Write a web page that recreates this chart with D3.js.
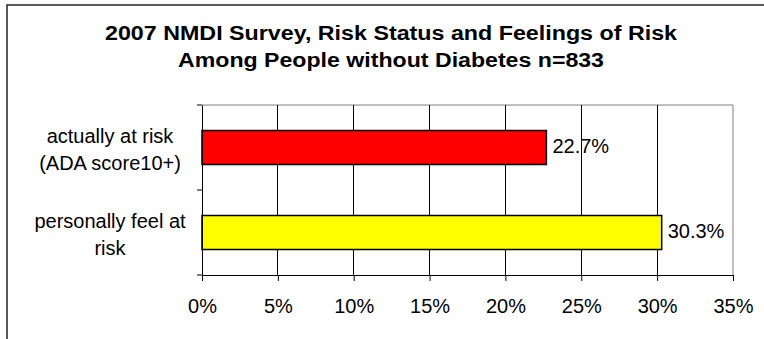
<!DOCTYPE html>
<html><head><meta charset="utf-8">
<script src="https://cdn.jsdelivr.net/npm/d3@7"></script>
<style>body{margin:0;background:#fff}svg{display:block}</style>
</head><body>
<script>
const categories = ["actually at risk|(ADA score10+)", "personally feel at|risk"];
const values = [22.7, 30.3];
const colors = ["#ff0000", "#ffff00"];
const tickValues = [0, 5, 10, 15, 20, 25, 30, 35];
const titleLines = ["2007 NMDI Survey, Risk Status and Feelings of Risk", "Among People without Diabetes n=833"];

const W = 764, H = 339;
const svg = d3.select("body").append("svg").attr("width", W).attr("height", H);
const font = "Liberation Sans, Arial, sans-serif";
const fs = 20;

// outer frame
svg.append("rect").attr("x", 7).attr("y", 5).attr("width", W + 10).attr("height", H + 10)
  .attr("fill", "#fff").attr("stroke", "#222").attr("stroke-width", 1.5);

// title
const titleLen = [572, 426];
titleLines.forEach((t, i) => {
  svg.append("text").attr("x", 391).attr("y", 39.5 + i * 27).attr("text-anchor", "middle")
    .attr("font-family", font).attr("font-weight", "bold").attr("font-size", 19.5).attr("fill", "#000")
    .attr("textLength", titleLen[i]).attr("lengthAdjust", "spacingAndGlyphs").text(t);
});

const m = {l: 202, r: 733, t: 105, b: 275};
const x = d3.scaleLinear().domain([0, 35]).range([m.l, m.r]);
const y = d3.scaleBand().domain(categories).range([m.t, m.b]).paddingInner(0.6).paddingOuter(0.3);
const yb = d3.scaleBand().domain(categories).range([m.t, m.b]);

// plot border top/right gray
svg.append("line").attr("x1", m.l).attr("x2", m.r).attr("y1", m.t).attr("y2", m.t).attr("stroke", "#808080");
svg.append("line").attr("x1", m.r).attr("x2", m.r).attr("y1", m.t).attr("y2", m.b).attr("stroke", "#808080");

// gridlines
svg.append("g").selectAll("line").data(tickValues.filter(d => d > 0 && d < 35)).join("line")
  .attr("x1", d => x(d)).attr("x2", d => x(d)).attr("y1", m.t).attr("y2", m.b)
  .attr("stroke", "#000").attr("stroke-width", 1).attr("shape-rendering", "crispEdges");

// bars
svg.append("g").selectAll("rect").data(values).join("rect")
  .attr("x", x(0)).attr("y", (d, i) => y(categories[i]))
  .attr("width", d => x(d) - x(0)).attr("height", y.bandwidth())
  .attr("fill", (d, i) => colors[i]).attr("stroke", "#000").attr("stroke-width", 1.5);

// value labels
svg.append("g").selectAll("text").data(values).join("text")
  .attr("x", d => x(d) + 6).attr("y", (d, i) => y(categories[i]) + y.bandwidth() / 2 + 5.5)
  .attr("font-family", font).attr("font-size", fs).attr("fill", "#000")
  .text(d => d.toFixed(1) + "%");

// x axis
const xa = svg.append("g").attr("transform", `translate(0,${m.b})`)
  .call(d3.axisBottom(x).tickValues(tickValues).tickFormat(d => d + "%").tickSize(6).tickPadding(17.5));
xa.select(".domain").attr("stroke", "#000");
xa.selectAll("line").attr("stroke", "#000");
xa.selectAll("text").attr("font-family", font).attr("font-size", fs).attr("fill", "#000");

// y axis
const ya = svg.append("g").attr("transform", `translate(${m.l},0)`)
  .call(d3.axisLeft(yb).tickValues([]).tickSize(0));
ya.select(".domain").attr("stroke", "#000");
const tickYs = [m.t].concat(categories.map(c => yb(c) + yb.bandwidth()));
svg.append("g").selectAll("line").data(tickYs).join("line")
  .attr("x1", m.l - 5).attr("x2", m.l).attr("y1", d => d).attr("y2", d => d).attr("stroke", "#000");

// category labels
categories.forEach((c, i) => {
  const lines = c.split("|");
  const cy = yb(c) + yb.bandwidth() / 2;
  const t = svg.append("text").attr("text-anchor", "middle").attr("font-family", font)
    .attr("font-size", fs).attr("fill", "#000");
  lines.forEach((ln, j) => {
    t.append("tspan").attr("x", 110).attr("y", cy - 5 + j * 27.5).text(ln);
  });
});
</script>
</body></html>
